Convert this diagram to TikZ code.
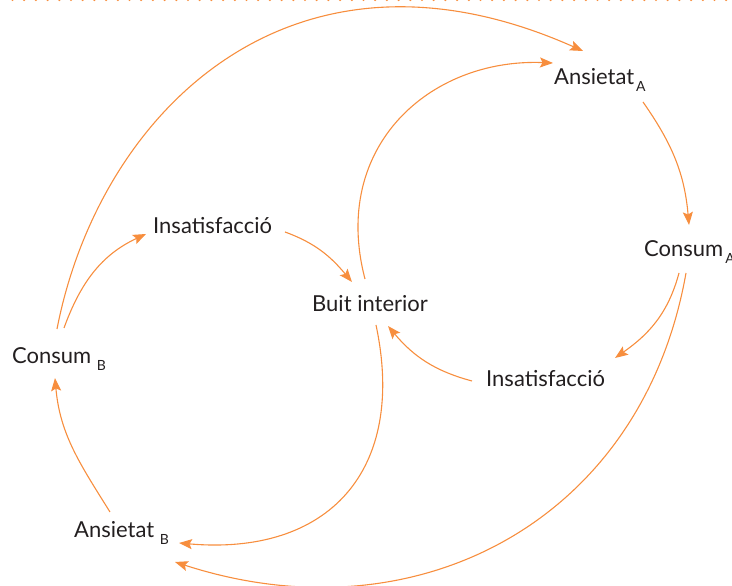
\documentclass[tikz,border=0pt]{standalone}
\usepackage{fontspec}
\setmainfont{Lato}
\usepackage{tikz}
\usetikzlibrary{arrows.meta}
\usepackage{xcolor}
\definecolor{looporange}{RGB}{247,142,62}
\definecolor{labelgray}{RGB}{35,31,32}
\newcommand{\idx}[1]{\raisebox{-7pt}{\fontsize{14}{14}\selectfont #1}}
\tikzstyle{arrow} = [line width=1.1pt,-{Stealth[length=13pt,width=10pt,inset=2.5pt]},color=looporange]
\tikzstyle{state} = [anchor=base west, inner sep=0pt, text=labelgray, font=\fontsize{22}{26}\selectfont]

\begin{document}
\begin{tikzpicture}[x=1pt,y=1pt]
\useasboundingbox (0,0) rectangle (732,586);
% dotted rule on top
\draw[looporange, line width=3.5pt, line cap=round, dash pattern=on 0pt off 11.7pt] (12.5,586.5) -- (732,586.5);

% Loop A
\node (ansA) [state] at (554,501) {Ansietat\kern2pt\idx{A}};
\node (consA) [state] at (644,329) {Consum\kern2pt\idx{A}};
\node (insat2) [state] at (486,199) {Insatisfacció};

% Centre
\node (buit) [state] at (312,274) {Buit interior};

% Loop B
\node (insat1) [state] at (153,352) {Insatisfacció};
\node (consB) [state] at (12,222) {Consum \idx{B}};
\node (ansB) [state] at (74,48) {Ansietat \idx{B}};

% Connectors
\draw[arrow] ([shift={(45,35)}]consB.base west) .. controls +(79:220) and +(156:320) .. ([shift={(29,34)}]ansA.base west);
\draw[arrow] ([shift={(53,33)}]buit.base west) .. controls +(104.7:137) and +(177.7:123) .. ([shift={(-1,22)}]ansA.base west);
\draw[arrow] ([shift={(89,-17)}]ansA.base west) to[out=-55,in=95] ([shift={(45,32)}]consA.base west);
\draw[arrow] ([shift={(35,-16)}]consA.base west) to[out=-105,in=35] ([shift={(129,29)}]insat2.base west);
\draw[arrow] ([shift={(42,-16)}]consA.base west) to[out=-100,in=-18,looseness=1.1] ([shift={(101,-24)}]ansB.base west);
\draw[arrow] ([shift={(64,-13)}]buit.base west) to[out=-78,in=-5,looseness=1.3] ([shift={(105,-5)}]ansB.base west);
\draw[arrow] ([shift={(36,26)}]ansB.base west) to[out=122,in=-85] ([shift={(43,-14)}]consB.base west);
\draw[arrow] ([shift={(52,36)}]consB.base west) to[out=70,in=205] ([shift={(-7,0)}]insat1.base west);
\draw[arrow] ([shift={(132,2)}]insat1.base west) to[out=-20,in=130] ([shift={(40,30)}]buit.base west);
\draw[arrow] ([shift={(-14,6)}]insat2.base west) to[out=165,in=-50] ([shift={(76,-14)}]buit.base west);
\end{tikzpicture}
\end{document}
